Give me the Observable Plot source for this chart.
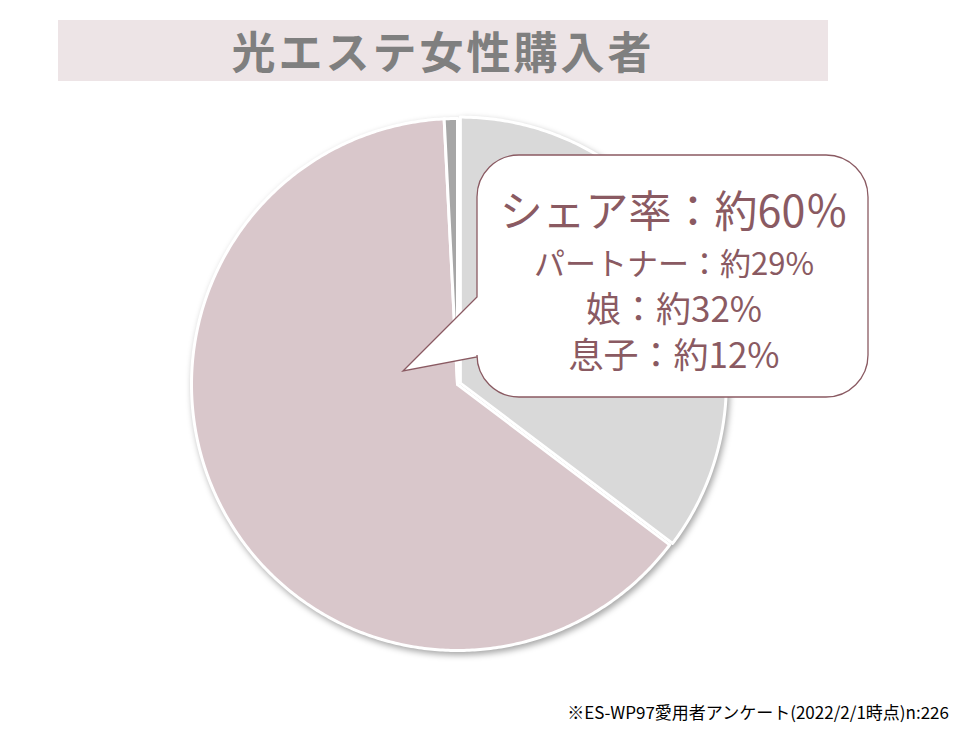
<!DOCTYPE html>
<html><head><meta charset="utf-8">
<script src="https://cdn.jsdelivr.net/npm/d3@7"></script>
<script src="https://cdn.jsdelivr.net/npm/@observablehq/plot@0.6"></script>
<style>
body{margin:0;background:#fff;}
#wrap{position:relative;width:959px;height:730px;overflow:hidden;font-family:"Noto Sans CJK JP","Noto Sans",sans-serif;}
#title{position:absolute;left:58px;top:20px;width:770px;height:61px;background:#ede4e6;color:#7f7f7f;font-weight:bold;font-size:44px;line-height:61px;text-align:center;letter-spacing:3px;}
#pie{position:absolute;left:0;top:0;}
#pie svg{filter:drop-shadow(2px 3px 3px rgba(0,0,0,0.35));}
#bubble{position:absolute;left:0;top:0;}
#note{position:absolute;right:10px;top:699px;font-size:17px;color:#000;white-space:nowrap;}
</style></head><body><div id="wrap"><div id="pie"></div><div id="title"></div><svg id="bubble" width="959" height="730"></svg><div id="note"></div></div>
<script>
// ---- data ----
const categories = ["その他", "女性", "不明"];
const shares = [35.3, 63.9, 0.8];
const colors = ["#d9d9d9", "#d9c7cb", "#a6a6a6"];
const titleText = "光エステ女性購入者";
const calloutLines = ["シェア率：約60％", "パートナー：約29%", "娘：約32%", "息子：約12%"];
const noteText = "※ES-WP97愛用者アンケート(2022/2/1時点)n:226";

// ---- pie layout ----
const cx = 457, cy = 384, r = 266;
const arcs = d3.pie().sort(null).value(d => d)(shares);
const pts = [];
arcs.forEach((a, i) => {
  const cat = categories[i];
  const ex = i === 0 ? 0.012 : 0;
  const mid = (a.startAngle + a.endAngle) / 2;
  const ox = ex * Math.sin(mid), oy = ex * Math.cos(mid);
  pts.push({cat, x: ox, y: oy});
  const n = Math.max(2, Math.ceil((a.endAngle - a.startAngle) / 0.01));
  for (let k = 0; k <= n; k++) {
    const t = a.startAngle + (a.endAngle - a.startAngle) * k / n;
    pts.push({cat, x: ox + Math.sin(t), y: oy + Math.cos(t)});
  }
});

const chart = Plot.plot({
  width: 959, height: 730,
  margin: 0,
  style: {background: "transparent", overflow: "visible"},
  x: {domain: [-1, 1], range: [cx - r, cx + r], axis: null},
  y: {domain: [-1, 1], range: [cy + r, cy - r], axis: null},
  color: {domain: categories, range: colors},
  marks: [
    Plot.line(pts, {x: "x", y: "y", z: "cat", fill: "cat", stroke: "white", strokeWidth: 3, strokeLinejoin: "round", curve: "linear-closed"})
  ]
});
document.getElementById("pie").appendChild(chart);

document.getElementById("title").textContent = titleText;
document.getElementById("note").textContent = noteText;

// ---- callout bubble ----
const svg = d3.select("#bubble");
const bx0 = 477, by0 = 155, bx1 = 868, by1 = 397, rr = 42;
const p = d3.path();
p.moveTo(bx0, 297);
p.lineTo(bx0, by0 + rr);
p.arcTo(bx0, by0, bx0 + rr, by0, rr);
p.lineTo(bx1 - rr, by0);
p.arcTo(bx1, by0, bx1, by0 + rr, rr);
p.lineTo(bx1, by1 - rr);
p.arcTo(bx1, by1, bx1 - rr, by1, rr);
p.lineTo(bx0 + rr, by1);
p.arcTo(bx0, by1, bx0, by1 - rr, rr);
p.lineTo(bx0, 357);
p.lineTo(403, 371);
p.closePath();
svg.append("path").attr("d", p.toString()).attr("fill", "white").attr("stroke", "#8a5a62").attr("stroke-width", 1.3);
const tc = 674;
const sizes = [43, 31, 35, 35];
const ys = [208, 261, 306, 352];
calloutLines.forEach((s, i) => {
  svg.append("text").attr("x", tc).attr("y", ys[i]).attr("text-anchor", "middle").attr("dominant-baseline", "central")
    .attr("font-family", '"Noto Sans CJK JP", sans-serif').attr("font-size", sizes[i]).attr("fill", "#8a5a62").text(s);
});
</script></body></html>
